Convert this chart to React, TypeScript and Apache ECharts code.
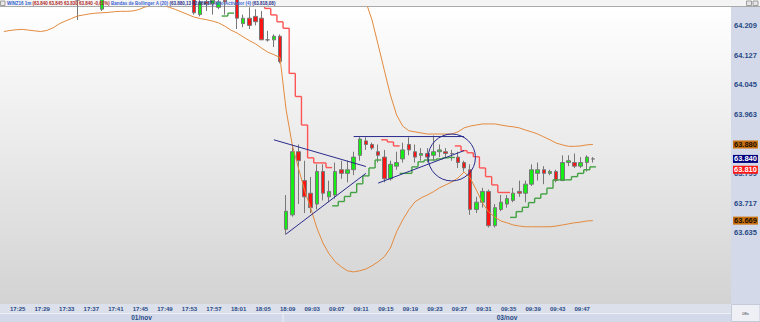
import React, { useEffect, useRef } from 'react';
import * as echarts from 'echarts';

// ---------- categories ----------
const day1Times = [
  '17:24', '17:25', '17:26', '17:27', '17:28', '17:29', '17:30', '17:31', '17:32', '17:33',
  '17:34', '17:35', '17:36', '17:37', '17:38', '17:39', '17:40', '17:41', '17:42', '17:43',
  '17:44', '17:45', '17:46', '17:47', '17:48', '17:49', '17:50', '17:51', '17:52', '17:53',
  '17:54', '17:55', '17:56', '17:57', '17:58', '17:59', '18:00', '18:01', '18:02', '18:03',
  '18:04', '18:05', '18:06', '18:07', '18:08', '18:09',
];
const day2Times = [
  '09:00', '09:01', '09:02', '09:03', '09:04', '09:05', '09:06', '09:07', '09:08', '09:09',
  '09:10', '09:11', '09:12', '09:13', '09:14', '09:15', '09:16', '09:17', '09:18', '09:19',
  '09:20', '09:21', '09:22', '09:23', '09:24', '09:25', '09:26', '09:27', '09:28', '09:29',
  '09:30', '09:31', '09:32', '09:33', '09:34', '09:35', '09:36', '09:37', '09:38', '09:39',
  '09:40', '09:41', '09:42', '09:43', '09:44', '09:45', '09:46', '09:47', '09:48', '09:49',
  '09:50',
];
const timeLabels = [
  '17:25', '17:29', '17:33', '17:37', '17:41', '17:45', '17:49', '17:53', '17:57', '18:01',
  '18:05', '18:09', '09:03', '09:07', '09:11', '09:15', '09:19', '09:23', '09:27', '09:31',
  '09:35', '09:39', '09:43', '09:47',
];
const dayLabels = ['01/nov', '03/nov'];

// ---------- candles (day 1: 17:24..18:09) ----------
const day1Open = [
  64330, 64335, 64345, 64340, 64335, 64325, 64320, 64310, 64305, 64300,
  64295, 64290, 64285, 64280, 64290, 64285, 64255, 64285, 64295, 64300,
  64310, 64305, 64300, 64295, 64290, 64285, 64280, 64275, 64280, 64270,
  64275, 64285, 64240, 64275, 64270, 64260, 64280, 64275, 64290, 64215,
  64230, 64235, 64230, 64170, 64170, 64180,
];
const day1High = [
  64345, 64350, 64355, 64350, 64345, 64335, 64330, 64320, 64315, 64310,
  64305, 64300, 64295, 64295, 64300, 64295, 64290, 64300, 64310, 64315,
  64320, 64315, 64310, 64305, 64300, 64295, 64290, 64285, 64290, 64285,
  64285, 64295, 64280, 64285, 64285, 64285, 64290, 64300, 64300, 64240,
  64260, 64255, 64250, 64195, 64185, 64185,
];
const day1Low = [
  64320, 64325, 64335, 64330, 64320, 64310, 64305, 64295, 64290, 64285,
  64280, 64275, 64225, 64270, 64275, 64270, 64250, 64275, 64285, 64290,
  64295, 64290, 64285, 64280, 64275, 64270, 64268, 64265, 64265, 64262,
  64263, 64240, 64235, 64250, 64240, 64255, 64240, 64265, 64200, 64205,
  64200, 64210, 64170, 64165, 64150, 64105,
];
const day1Close = [
  64335, 64345, 64340, 64335, 64325, 64320, 64310, 64305, 64300, 64295,
  64290, 64285, 64280, 64290, 64285, 64280, 64285, 64295, 64300, 64310,
  64305, 64300, 64295, 64290, 64285, 64280, 64275, 64280, 64270, 64275,
  64285, 64245, 64275, 64270, 64280, 64275, 64275, 64290, 64230, 64230,
  64210, 64220, 64170, 64170, 64180, 64110,
];

// ---------- candles (day 2: 09:00..09:50) ----------
const day2Open = [
  63645, 63685, 63860, 63780, 63745, 63715, 63805, 63735, 63740, 63810,
  63800, 63810, 63850, 63890, 63880, 63860, 63845, 63785, 63820, 63840,
  63880, 63860, 63850, 63855, 63850, 63860, 63860, 63855, 63845, 63830,
  63810, 63700, 63720, 63750, 63655, 63700, 63715, 63725, 63750, 63745,
  63770, 63800, 63810, 63800, 63805, 63780, 63830, 63830, 63820, 63830,
  63840,
];
const day2High = [
  63740, 63880, 63880, 63835, 63790, 63825, 63825, 63780, 63830, 63835,
  63835, 63860, 63900, 63900, 63885, 63880, 63865, 63835, 63860, 63885,
  63900, 63880, 63870, 63870, 63905, 63880, 63870, 63865, 63860, 63835,
  63825, 63735, 63760, 63755, 63715, 63740, 63740, 63760, 63780, 63780,
  63825, 63830, 63820, 63810, 63810, 63850, 63850, 63855, 63845, 63850,
  63845,
];
const day2Low = [
  63630, 63680, 63715, 63690, 63690, 63700, 63725, 63720, 63730, 63785,
  63775, 63795, 63835, 63865, 63865, 63830, 63775, 63780, 63810, 63830,
  63850, 63830, 63835, 63830, 63835, 63845, 63845, 63835, 63815, 63805,
  63685, 63690, 63705, 63650, 63650, 63695, 63705, 63720, 63735, 63720,
  63765, 63780, 63770, 63795, 63775, 63780, 63820, 63815, 63815, 63805,
  63830,
];
const day2Close = [
  63695, 63860, 63835, 63735, 63705, 63805, 63745, 63750, 63805, 63800,
  63810, 63845, 63895, 63880, 63870, 63850, 63785, 63825, 63830, 63865,
  63865, 63845, 63855, 63845, 63860, 63865, 63855, 63855, 63830, 63815,
  63700, 63720, 63750, 63655, 63705, 63720, 63730, 63745, 63745, 63770,
  63810, 63810, 63800, 63805, 63780, 63830, 63835, 63820, 63830, 63845,
  63840,
];

// ---------- Bollinger bands (20) ----------
const day1Upper = [
  64470, 64468, 64465, 64462, 64458, 64455, 64450, 64446, 64440, 64432,
  64425, 64418, 64410, 64402, 64396, 64390, 64386, 64384, 64382, 64380,
  64378, 64376, 64374, 64372, 64370, 64368, 64366, 64365, 64364, 64362,
  64360, 64360, 64358, 64357, 64356, 64355, 64354, 64352, 64350, 64352,
  64356, 64360, 64366, 64372, 64380, 64395,
];
const day2Upper = [
  64420, 64450, 64470, 64490, 64500, 64500, 64490, 64470, 64440, 64410,
  64375, 64340, 64305, 64275, 64225, 64156, 64086, 64017, 63962, 63931,
  63918, 63915, 63912, 63909, 63909, 63909, 63909, 63909, 63915, 63926,
  63931, 63934, 63937, 63937, 63937, 63934, 63931, 63929, 63926, 63920,
  63915, 63909, 63901, 63893, 63884, 63879, 63875, 63875, 63876, 63879,
  63880,
];
const day1Lower = [
  64193, 64196, 64198, 64199, 64197, 64195, 64193, 64196, 64203, 64214,
  64222, 64229, 64236, 64239, 64242, 64244, 64245, 64246, 64248, 64249,
  64249, 64250, 64254, 64261, 64265, 64267, 64265, 64260, 64254, 64247,
  64240, 64233, 64229, 64226, 64222, 64217, 64208, 64197, 64189, 64178,
  64168, 64159, 64147, 64136, 64129, 64121,
];
const day2Lower = [
  63976, 63879, 63815, 63754, 63704, 63649, 63607, 63577, 63555, 63541,
  63530, 63527, 63530, 63535, 63544, 63555, 63569, 63593, 63638, 63671,
  63699, 63721, 63732, 63740, 63749, 63760, 63768, 63776, 63787, 63804,
  63787, 63754, 63718, 63693, 63679, 63668, 63663, 63657, 63654, 63652,
  63652, 63652, 63652, 63652, 63654, 63657, 63660, 63663, 63665, 63668,
  63669,
];

// ---------- Hilo Activator (4) ----------
const day1Hilo = [
  null, null, null, null, null, null, null, null, null, null,
  null, null, null, null, null, null, null, null, null, null,
  null, null, null, null, null, null, null, null, null, 64300,
  64295, 64290, 64290, 64285, 64280, 64280, 64236, 64244, 64290, 64285,
  64280, 64275, 64270, 64257, 64239, 64220,
];
const day1HiloSide = '.............................RRRRRRRGGRRRRRRRR';
const day2Hilo = [
  64202, 64077, 64013, 63934, 63843, 63829, 63829, 63816, 63710, 63722,
  63736, 63747, 63771, 63793, 63815, 63837, 63893, 63887, 63876, 63800,
  63800, 63818, 63832, 63837, 63837, 63840, 63843, 63844, 63876, 63863,
  63857, 63846, 63815, 63791, 63768, 63747, 63747, 63678, 63694, 63706,
  63719, 63731, 63743, 63759, 63782, 63782, 63782, 63791, 63800, 63810,
  63818,
];
const day2HiloSide = 'RRRRRRRRGGGGGGGGRRRGGGGGGGGGRRRRRRRRRGGGGGGGGGGGGGG';

// ---------- axis ----------
const yTicks = [63635, 63717, 63799, 63880, 63963, 64045, 64127, 64209];
const tagValues = [63880, 63840, 63810, 63669];

// ---------- user drawings (category index, price) ----------
const drawnLines = [
  [[43.96, 63893], [59.05, 63819]],
  [[45.9, 63632], [59.05, 63800]],
  [[56.8, 63902], [75.0, 63902]],
  [[60.9, 63773], [74.8, 63863]],
];
const drawnCircle = { center: [73.1, 63844], radius: [3.85, 65] };

const FONT = "'Liberation Sans', Arial, sans-serif";
const fmt = (v: number) => (v / 1000).toFixed(3);
const UP = '#14ee14';
const DOWN = '#ff1414';
const WICK = '#777777';
const BAND = '#e38a3e';
const HILO_UP = '#43a143';
const HILO_DOWN = '#ff5454';
const NAVY = '#2a2a8e';
const AXIS_TEXT = '#284a86';
const tagBg = ['#c8700f', '#00007e', '#ff1a1a', '#c8700f'];
const tagFg = ['#1a0d00', '#ffffff', '#ffffff', '#1a0d00'];

export default function App() {
  const ref = useRef<HTMLDivElement>(null);

  useEffect(() => {
    document.body.style.margin = '0';
    const chart = echarts.init(ref.current!, null, { renderer: 'svg' });

    const times = [...day1Times, ...day2Times];
    const N_CATS = 119;
    const cats = times.concat(
      Array.from({ length: N_CATS - times.length }, (_, j) => `~${j}`)
    );
    const opens = [...day1Open, ...day2Open];
    const highs = [...day1High, ...day2High];
    const lows = [...day1Low, ...day2Low];
    const closes = [...day1Close, ...day2Close];
    const candles = times.map((_, k) => [opens[k], closes[k], lows[k], highs[k]]);
    const upper = [...day1Upper, ...day2Upper];
    const lower = [...day1Lower, ...day2Lower];
    const hilo = [...day1Hilo, ...day2Hilo];
    const side = (day1HiloSide + day2HiloSide).split('');
    const hiloData: number[][] = [];
    hilo.forEach((v, k) => {
      if (v == null) return;
      const prevSame = k > 0 && hilo[k - 1] != null && side[k - 1] === side[k];
      hiloData.push([k, v as number, side[k] === 'G' ? 1 : 0, prevSame ? (hilo[k - 1] as number) : -1]);
    });

    const labelSet = new Set(timeLabels);

    chart.setOption({
      animation: false,
      title: {
        left: 7,
        top: 1,
        padding: 0,
        text:
          '{n|WINZ16 1m} {p|(63.840 63.845 63.830 63.840 -0,01%)} {b|Bandas de Bollinger A (20)} {v|(63.880,13 63.669,37)} {b|Hilo Activator (4)} {v|(63.818,08)}',
        textStyle: {
          fontSize: 4.5,
          fontFamily: FONT,
          rich: {
            n: { color: '#2f5fd0', fontSize: 4.5, fontFamily: FONT },
            p: { color: '#b02424', fontSize: 4.5, fontFamily: FONT },
            b: { color: '#3a66d6', fontSize: 4.5, fontFamily: FONT },
            v: { color: '#1f2f8a', fontSize: 4.5, fontFamily: FONT },
          },
        },
      },
      grid: { left: 0.78, right: 29, top: 7, bottom: 18, containLabel: false, outerBoundsMode: 'none' },
      xAxis: {
        type: 'category',
        data: cats,
        boundaryGap: true,
        axisLine: { show: false },
        axisTick: { show: false },
        splitLine: { show: false },
        axisLabel: {
          interval: (_: number, val: string) => labelSet.has(val),
          align: 'left',
          margin: 2,
          fontSize: 6,
          fontWeight: 'bold',
          fontFamily: FONT,
          color: AXIS_TEXT,
          hideOverlap: false,
        },
      },
      yAxis: {
        type: 'value',
        position: 'right',
        min: 63438,
        max: 64261,
        axisLine: { show: false },
        axisTick: { show: false },
        splitLine: { show: false },
        axisLabel: {
          customValues: yTicks,
          formatter: (v: number) => fmt(v),
          margin: 3,
          fontSize: 7.5,
          fontWeight: 'bold',
          fontFamily: FONT,
          color: AXIS_TEXT,
        },
      },
      series: [
        {
          type: 'candlestick',
          data: candles,
          barWidth: 4,
          z: 2,
          itemStyle: {
            color: UP,
            color0: DOWN,
            borderColor: WICK,
            borderColor0: WICK,
            borderWidth: 1,
          },
          markLine: {
            symbol: 'none',
            silent: true,
            animation: false,
            lineStyle: { width: 0, color: 'rgba(0,0,0,0)' },
            label: {
              position: 'end',
              distance: 2,
              fontSize: 7.5,
              fontWeight: 'bold',
              fontFamily: FONT,
              lineHeight: 8,
              padding: [0, 1, 0, 1],
              formatter: (p: any) => fmt(p.value),
            },
            emphasis: { disabled: true },
            data: tagValues.map((v, j) => ({
              yAxis: v,
              label: { color: tagFg[j], backgroundColor: tagBg[j] },
            })),
          },
        },
        {
          type: 'custom',
          name: 'hilo',
          data: hiloData,
          encode: { x: 0, y: 1 },
          clip: true,
          z: 3,
          silent: true,
          renderItem: (_params: any, api: any) => {
            const k = api.value(0);
            const v = api.value(1);
            const s = api.value(2);
            const prev = api.value(3);
            const p = api.coord([k, v]);
            const w = api.size([1, 0])[0];
            const style = { stroke: s === 1 ? HILO_UP : HILO_DOWN, lineWidth: 1.4 };
            const x0 = p[0] - w / 2;
            const children: any[] = [
              { type: 'line', shape: { x1: x0, y1: p[1], x2: p[0] + w / 2, y2: p[1] }, style },
            ];
            if (prev > 0) {
              const q = api.coord([k, prev]);
              children.push({ type: 'line', shape: { x1: x0, y1: q[1], x2: x0, y2: p[1] }, style });
            }
            return { type: 'group', children };
          },
        },
        {
          type: 'line',
          data: upper,
          showSymbol: false,
          symbol: 'none',
          z: 4,
          silent: true,
          lineStyle: { color: BAND, width: 1 },
        },
        {
          type: 'line',
          data: lower,
          showSymbol: false,
          symbol: 'none',
          z: 4,
          silent: true,
          lineStyle: { color: BAND, width: 1 },
        },
        {
          type: 'custom',
          name: 'drawings',
          data: [...drawnLines.map((_, j) => [j, 0]), [0, 0]],
          clip: true,
          z: 5,
          silent: true,
          renderItem: (params: any, api: any) => {
            const j = params.dataIndex;
            if (j < drawnLines.length) {
              const [a, b] = drawnLines[j];
              const pa = api.coord(a);
              const pb = api.coord(b);
              return {
                type: 'line',
                shape: { x1: pa[0], y1: pa[1], x2: pb[0], y2: pb[1] },
                style: { stroke: NAVY, lineWidth: 1 },
              };
            }
            const c = api.coord(drawnCircle.center);
            const band = api.size([1, 0])[0];
            const rx = band * drawnCircle.radius[0];
            const ry = api.size([0, drawnCircle.radius[1]])[1];
            return {
              type: 'ellipse',
              shape: { cx: c[0], cy: c[1], rx, ry },
              style: { fill: 'none', stroke: NAVY, lineWidth: 1 },
            };
          },
        },
      ],
    });

    // layout helpers from the category scale
    const px = (k: number) => chart.convertToPixel({ xAxisIndex: 0 }, k) as number;
    const lastDay1 = day1Times.length - 1;
    const sepX = (px(lastDay1) + px(lastDay1 + 1)) / 2;
    const gridRight = 731;
    const day1Center = sepX / 2;
    const day2Center = (sepX + gridRight) / 2;

    chart.setOption({
      graphic: {
        elements: [
          { type: 'rect', z: -20, silent: true, shape: { x: 0, y: 0, width: 760, height: 7 }, style: { fill: '#f4f4f4' } },
          {
            type: 'rect', z: -20, silent: true,
            shape: { x: 0, y: 7, width: gridRight, height: 297 },
            style: {
              fill: new echarts.graphic.LinearGradient(0, 0, 0, 1, [
                { offset: 0, color: '#ffffff' },
                { offset: 1, color: '#d3d3d3' },
              ]),
            },
          },
          { type: 'rect', z: -20, silent: true, shape: { x: gridRight, y: 7, width: 29, height: 297 }, style: { fill: '#d3d9e8' } },
          { type: 'rect', z: -20, silent: true, shape: { x: 0, y: 304, width: gridRight, height: 9 }, style: { fill: '#dce0eb' } },
          { type: 'rect', z: -20, silent: true, shape: { x: 0, y: 313, width: gridRight, height: 9 }, style: { fill: '#d3d9e8' } },
          { type: 'line', z: -19, silent: true, shape: { x1: 0, y1: 313.5, x2: gridRight, y2: 313.5 }, style: { stroke: '#eef0f6', lineWidth: 1 } },
          { type: 'line', z: -19, silent: true, shape: { x1: sepX, y1: 313, x2: sepX, y2: 322 }, style: { stroke: '#eef0f6', lineWidth: 1 } },
          { type: 'rect', z: -20, silent: true, shape: { x: gridRight + 0.5, y: 304.5, width: 28.5, height: 17 }, style: { fill: '#eef0f5', stroke: '#c4cad9', lineWidth: 1 } },
          { type: 'line', z: -19, silent: true, shape: { x1: 0, y1: 6.5, x2: 760, y2: 6.5 }, style: { stroke: '#a9a9a9', lineWidth: 1 } },
          { type: 'rect', z: -19, silent: true, shape: { x: 0.5, y: 1, width: 4.5, height: 4.5 }, style: { fill: '#e8e8e8', stroke: '#8a8a8a', lineWidth: 0.8 } },
          { type: 'rect', z: -19, silent: true, shape: { x: 746.5, y: 1, width: 5, height: 4.5 }, style: { fill: '#e6e6e6', stroke: '#8a8a8a', lineWidth: 0.8 } },
          { type: 'rect', z: -19, silent: true, shape: { x: 753, y: 1, width: 5, height: 4.5 }, style: { fill: '#e6e6e6', stroke: '#8a8a8a', lineWidth: 0.8 } },
          {
            type: 'text', z: 10, silent: true, x: day1Center, y: 317.8,
            style: { text: dayLabels[0], fill: AXIS_TEXT, font: `bold 6.5px ${FONT}`, align: 'center', verticalAlign: 'middle' },
          },
          {
            type: 'text', z: 10, silent: true, x: day2Center, y: 317.8,
            style: { text: dayLabels[1], fill: AXIS_TEXT, font: `bold 6.5px ${FONT}`, align: 'center', verticalAlign: 'middle' },
          },
          {
            type: 'text', z: 10, silent: true, x: 745.5, y: 313.5,
            style: { text: '08s', fill: '#333333', font: `4px ${FONT}`, align: 'center', verticalAlign: 'middle' },
          },
        ],
      },
    });

    return () => chart.dispose();
  }, []);

  return <div ref={ref} style={{ width: 760, height: 322 }} />;
}
